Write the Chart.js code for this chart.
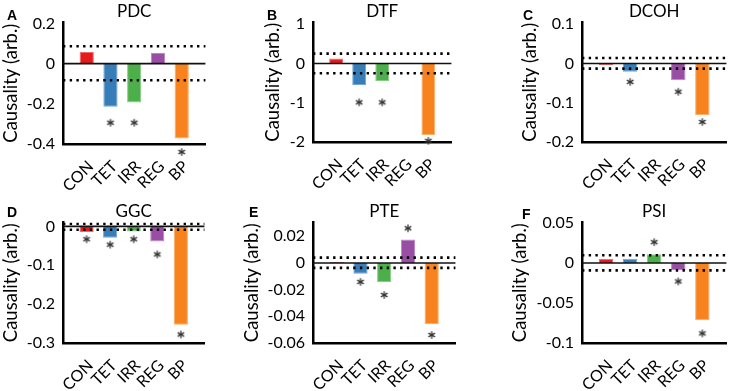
<!DOCTYPE html>
<html>
<head>
<meta charset="utf-8">
<script src="https://cdn.jsdelivr.net/npm/chart.js@4.4.0/dist/chart.umd.min.js"></script>
<style>
  html, body { margin: 0; padding: 0; background: #fff; }
  #wrap { position: relative; width: 752px; height: 391px; overflow: hidden; }
  #wrap canvas { position: absolute; }
  .tag { position: absolute; font: bold 14px "Liberation Sans", Arial, sans-serif; line-height: 1; color: #000; }
</style>
</head>
<body>
<div id="wrap"></div>
<script>
// data
const categories = ['CON', 'TET', 'IRR', 'REG', 'BP'];

const pdcValues = [0.058, -0.215, -0.193, 0.053, -0.373];
const pdcStars = [null, -0.294, -0.294, null, -0.44];
const pdcBand = [0.086, -0.083];
const pdcTicks = [0.2, 0, -0.2, -0.4];

const dtfValues = [0.127, -0.55, -0.45, 0.02, -1.82];
const dtfStars = [null, -0.99, -0.99, null, -1.97];
const dtfBand = [0.25, -0.25];
const dtfTicks = [1, 0, -1, -2];

const dcohValues = [-0.004, -0.021, -0.002, -0.043, -0.131];
const dcohStars = [null, -0.047, null, -0.072, -0.149];
const dcohBand = [0.014, -0.013];
const dcohTicks = [0.1, 0, -0.1, -0.2];

const ggcValues = [-0.0146, -0.029, -0.013, -0.0386, -0.253];
const ggcStars = [-0.033, -0.047, -0.033, -0.072, -0.278];
const ggcBand = [0.007, -0.0085];
const ggcTicks = [0, -0.1, -0.2, -0.3];

const pteValues = [0.0007, -0.008, -0.0142, 0.0175, -0.046];
const pteStars = [null, -0.0142, -0.024, 0.026, -0.054];
const pteBand = [0.004, -0.0037];
const pteTicks = [0.02, 0, -0.02, -0.04, -0.06];

const psiValues = [0.0054, 0.0054, 0.011, -0.009, -0.0716];
const psiStars = [null, null, 0.026, -0.023, -0.088];
const psiBand = [0.0096, -0.0092];
const psiTicks = [0.05, 0, -0.05, -0.1];

const barColors = ['#e41a1c', '#377eb8', '#4daf4a', '#984ea3', '#f7821e'];
const barEdges = ['#f0686a', '#73a6d4', '#85cc83', '#bb86c4', '#fbac66'];

const FONT = "Lato, 'Liberation Sans', sans-serif";
const Y_TITLE_SIZE = 18.5;

// layout of each panel: plot box and y-title centre
const panels = [
  { tag: 'A', tagPos: [7, 8], title: 'PDC', values: pdcValues, stars: pdcStars, band: pdcBand, ticks: pdcTicks, min: -0.4, max: 0.205, area: { l: 63, r: 228, t: 22, b: 144 }, yTitleX: 11 },
  { tag: 'B', tagPos: [267, 8], title: 'DTF', values: dtfValues, stars: dtfStars, band: dtfBand, ticks: dtfTicks, min: -2, max: 1.045, area: { l: 313, r: 474, t: 22, b: 142 }, yTitleX: 273 },
  { tag: 'C', tagPos: [523, 8], title: 'DCOH', values: dcohValues, stars: dcohStars, band: dcohBand, ticks: dcohTicks, min: -0.2, max: 0.1046, area: { l: 582, r: 749, t: 22, b: 142 }, yTitleX: 530 },
  { tag: 'D', tagPos: [7, 205], title: 'GGC', values: ggcValues, stars: ggcStars, band: ggcBand, ticks: ggcTicks, min: -0.3, max: 0.0103, area: { l: 63, r: 227, t: 222, b: 343 }, yTitleX: 11 },
  { tag: 'E', tagPos: [249, 205], title: 'PTE', values: pteValues, stars: pteStars, band: pteBand, ticks: pteTicks, min: -0.06, max: 0.0304, area: { l: 313, r: 478, t: 222, b: 343 }, yTitleX: 252 },
  { tag: 'F', tagPos: [522, 207], title: 'PSI', values: psiValues, stars: psiStars, band: psiBand, ticks: psiTicks, min: -0.1, max: 0.0507, area: { l: 582, r: 749, t: 222, b: 343 }, yTitleX: 520 },
];

// little six-armed asterisk used as point style
function makeStar() {
  const c = document.createElement('canvas');
  c.width = 10; c.height = 10;
  const g = c.getContext('2d');
  g.strokeStyle = '#333';
  g.lineWidth = 1.3;
  [90, 30, -30].forEach(a => {
    const r = a * Math.PI / 180;
    g.beginPath();
    g.moveTo(5 - 3.8 * Math.cos(r), 5 - 3.8 * Math.sin(r));
    g.lineTo(5 + 3.8 * Math.cos(r), 5 + 3.8 * Math.sin(r));
    g.stroke();
  });
  return c;
}
const star = makeStar();

const wrap = document.getElementById('wrap');
const labels = ['', ...categories, ''];
const pad = arr => [null, ...arr, null];
const flat = v => labels.map(() => v);
const X_HEIGHT = 50;

panels.forEach(p => {
  const left = Math.round(p.yTitleX - 1 - Y_TITLE_SIZE * 0.6);
  const top = Math.round(p.area.t - 22.4);
  const canvas = document.createElement('canvas');
  canvas.width = Math.round(p.area.r - left + 4);
  canvas.height = Math.round(p.area.b + X_HEIGHT - top);
  canvas.style.left = left + 'px';
  canvas.style.top = top + 'px';
  wrap.appendChild(canvas);

  const tag = document.createElement('div');
  tag.className = 'tag';
  tag.textContent = p.tag;
  tag.style.left = p.tagPos[0] + 'px';
  tag.style.top = p.tagPos[1] + 'px';
  wrap.appendChild(tag);

  const yWidth = p.area.l - left;

  new Chart(canvas, {
    data: {
      labels: labels,
      datasets: [
        {
          type: 'bar',
          data: pad(p.values),
          backgroundColor: pad(barColors),
          borderColor: pad(barEdges),
          borderWidth: 1,
          categoryPercentage: 1,
          barPercentage: 0.6,
          order: 4
        },
        { type: 'line', data: flat(0), borderColor: '#111', borderWidth: 1.6, pointRadius: 0, order: 3 },
        { type: 'line', data: flat(p.band[0]), borderColor: '#000', borderWidth: 2.6, borderDash: [2.4, 4.3], pointRadius: 0, order: 2 },
        { type: 'line', data: flat(p.band[1]), borderColor: '#000', borderWidth: 2.6, borderDash: [2.4, 4.3], pointRadius: 0, order: 2 },
        { type: 'line', data: pad(p.stars), showLine: false, pointStyle: star, pointRadius: 12, clip: false, order: 0 }
      ]
    },
    options: {
      responsive: false,
      animation: false,
      events: [],
      layout: { padding: { left: 0, right: 4, top: 0, bottom: 0 } },
      plugins: {
        legend: { display: false },
        tooltip: { enabled: false },
        title: {
          display: true,
          text: p.title,
          fullSize: false,
          color: '#000',
          padding: { top: 1, bottom: 1 },
          font: { family: FONT, size: 17, weight: 'normal' }
        }
      },
      scales: {
        x: {
          type: 'category',
          offset: false,
          grid: { display: false, drawTicks: false },
          border: { display: true, color: '#000', width: 2.5 },
          ticks: {
            autoSkip: false, minRotation: 45, maxRotation: 45, padding: 13, labelOffset: 4,
            color: '#000', font: { family: FONT, size: 16 }
          },
          afterFit: s => { s.height = X_HEIGHT; }
        },
        y: {
          type: 'linear',
          min: p.min,
          max: p.max,
          grid: { display: false, drawTicks: false },
          border: { display: true, color: '#000', width: 2.5 },
          ticks: {
            padding: 8, color: '#000', font: { family: FONT, size: 16 },
            callback: v => String(v)
          },
          afterBuildTicks: s => { s.ticks = p.ticks.map(v => ({ value: v })); },
          title: {
            display: true,
            text: 'Causality (arb.)',
            color: '#000',
            padding: { top: 1, bottom: 0 },
            font: { family: FONT, size: Y_TITLE_SIZE }
          },
          afterFit: s => { s.width = yWidth; }
        }
      }
    }
  });
});
</script>
</body>
</html>
